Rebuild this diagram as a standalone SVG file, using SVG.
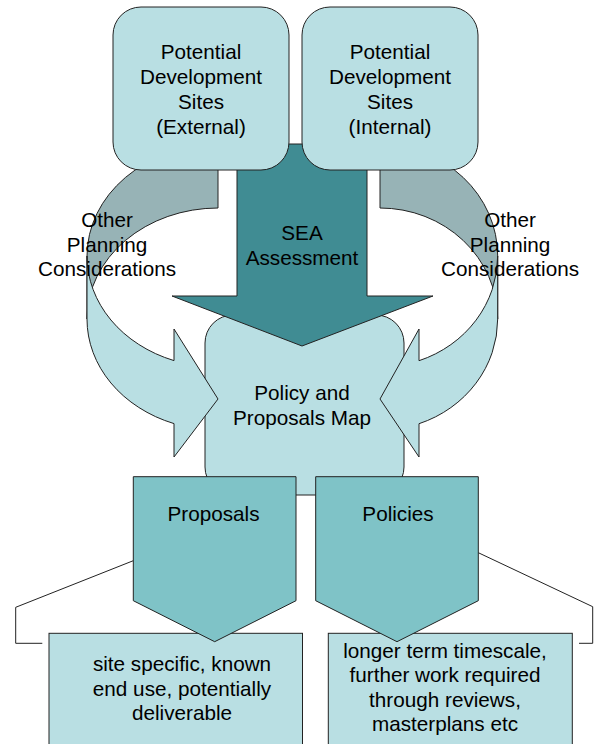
<svg xmlns="http://www.w3.org/2000/svg" width="595" height="744" viewBox="0 0 595 744">
<style>
.ln{stroke:#222;stroke-width:1;stroke-linejoin:miter}
.light{fill:#b9dfe3}
.gray{fill:#97b3b6}
.dark{fill:#408c93}
.mid{fill:#7fc3c7}
.t{font-family:"Liberation Sans",Arial,sans-serif;font-size:20.7px;fill:#000;text-anchor:middle}
.br{fill:none;stroke:#222;stroke-width:1}
</style>
<rect width="595" height="744" fill="#fff"/>
<g id="map">
<rect class="light ln" x="205" y="315" width="199" height="180" rx="28" ry="28"/>
</g>
<g id="connectors">
<g id="curve-left">
<path class="gray ln" d="M218,145 A131,111 0 0 0 87,256 L87,319 A131,111 0 0 1 218,208 Z"/>
<path class="light ln" d="M87,256 A131,111 0 0 0 174,360.6 L174,329 L218,399 L174,457 L174,423.6 A131,111 0 0 1 87,319 Z"/>
</g>
<g id="curve-right">
<path class="gray ln" d="M380,145 A117.7,111 0 0 1 497.7,256 L497.7,319 A117.7,111 0 0 0 380,208 Z"/>
<path class="light ln" d="M497.7,256 A117.7,111 0 0 1 419,360.7 L419,329 L380,399 L419,457 L419,423.7 A117.7,111 0 0 0 497.7,319 Z"/>
</g>
<g id="sea">
<path class="dark ln" d="M237,144 L367,144 L367,296 L433,296 L302,346 L172,296 L237,296 Z"/>
</g>
</g>
<g id="pds-external">
<rect class="light ln" x="113" y="7" width="176" height="163" rx="28" ry="28"/>
<text class="t" x="201" y="59">Potential</text>
<text class="t" x="201" y="84">Development</text>
<text class="t" x="201" y="109">Sites</text>
<text class="t" x="201" y="133.5">(External)</text>
</g>
<g id="pds-internal">
<rect class="light ln" x="302" y="7" width="176" height="163" rx="28" ry="28"/>
<text class="t" x="390" y="59">Potential</text>
<text class="t" x="390" y="84">Development</text>
<text class="t" x="390" y="109">Sites</text>
<text class="t" x="390" y="133.5">(Internal)</text>
</g>
<g id="box-left">
<rect class="light ln" x="49" y="633.3" width="253.5" height="130"/>
<text class="t" x="182" y="671">site specific, known</text>
<text class="t" x="182" y="695.5">end use, potentially</text>
<text class="t" x="182" y="720">deliverable</text>
</g>
<g id="box-right">
<rect class="light ln" x="328.3" y="633.3" width="244" height="130"/>
<text class="t" x="445" y="657.7">longer term timescale,</text>
<text class="t" x="445" y="682.2">further work required</text>
<text class="t" x="445" y="706.7">through reviews,</text>
<text class="t" x="445" y="731.2">masterplans etc</text>
</g>
<g id="brackets">
<polyline class="br" points="133.3,560.7 15.7,607.3 15.7,643.3 42.3,643.3"/>
<polyline class="br" points="478.3,552.7 592.7,606.7 592.7,643.3 579,643.3"/>
</g>
<g id="proposals">
<path class="mid ln" d="M133.3,476.7 H296 V600.7 L214.7,641.7 L133.3,600.7 Z"/>
<text class="t" x="213.5" y="520.7">Proposals</text>
</g>
<g id="policies">
<path class="mid ln" d="M315.7,476.7 H478.3 V600.7 L397,641.7 L315.7,600.7 Z"/>
<text class="t" x="398" y="520.7">Policies</text>
</g>
<g id="labels">
<text class="t" x="302" y="240">SEA</text>
<text class="t" x="302" y="265">Assessment</text>
<text class="t" x="107" y="226.7">Other</text>
<text class="t" x="107" y="251.5">Planning</text>
<text class="t" x="107" y="276">Considerations</text>
<text class="t" x="510" y="226.7">Other</text>
<text class="t" x="510" y="251.5">Planning</text>
<text class="t" x="510" y="276">Considerations</text>
<text class="t" x="302" y="400">Policy and</text>
<text class="t" x="302" y="424.5">Proposals Map</text>
</g>
</svg>
